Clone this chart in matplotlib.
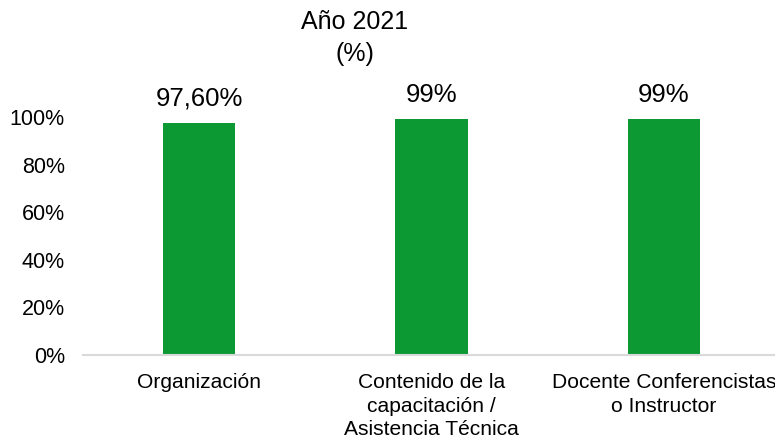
import matplotlib
matplotlib.use("Agg")
import matplotlib.pyplot as plt
from matplotlib.ticker import FuncFormatter

plt.rcParams["font.family"] = ["Liberation Sans", "DejaVu Sans"]

# ── Datos ─────────────────────────────────────────────────────────────────────
categorias = ["Organización",
              "Contenido de la\ncapacitación /\nAsistencia Técnica",
              "Docente Conferencistas\no Instructor"]
valores = [97.6, 99, 99]
etiquetas = ["97,60%", "99%", "99%"]
yticks = [0, 20, 40, 60, 80, 100]
# ─────────────────────────────────────────────────────────────────────────────

W, H = 775, 443
fig = plt.figure(figsize=(W / 100, H / 100), dpi=100)
ax = fig.add_axes([83 / W, 88 / H, 697 / W, 238 / H])

x = range(len(categorias))
bars = ax.bar(x, valores, width=0.31, color="#0c9933")

for b, lab in zip(bars, etiquetas):
    ax.annotate(lab, (b.get_x() + b.get_width() / 2, b.get_height()),
                xytext=(0, 9), textcoords="offset points",
                ha="center", va="bottom", fontsize=18.5, color="black")

ax.set_xlim(-0.5, 2.5)
ax.set_ylim(0, 100)
ax.set_yticks(yticks)
ax.yaxis.set_major_formatter(FuncFormatter(lambda v, p: f"{v:.0f}%"))
ax.set_xticks(list(x))
ax.set_xticklabels(categorias, fontsize=15.1, linespacing=1.3, va="top")
ax.tick_params(axis="y", labelsize=15.5, length=0, pad=13)
ax.tick_params(axis="x", length=0, pad=13)

for s in ["top", "right", "left"]:
    ax.spines[s].set_visible(False)
ax.spines["bottom"].set_color("#d9d9d9")
ax.spines["bottom"].set_linewidth(1.5)

fig.text(355 / W, 1 - 38 / H, "Año 2021\n(%)", ha="center", va="center",
         fontsize=18, linespacing=1.38)

fig.savefig("out.png", dpi=100)
